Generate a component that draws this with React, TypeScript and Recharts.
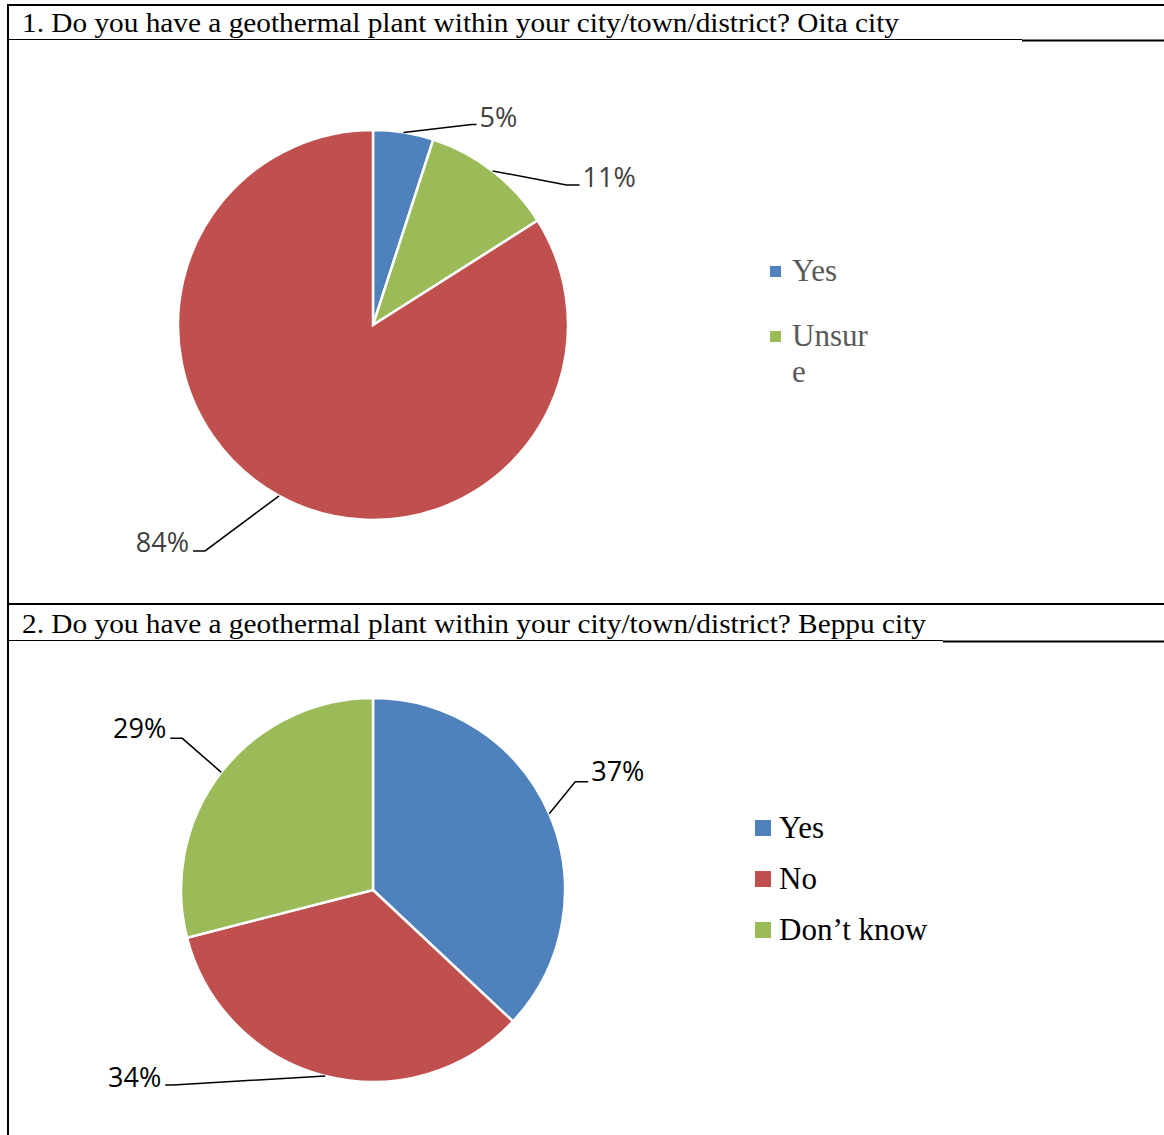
import React from "react";
import { PieChart, Pie, Cell, Legend } from "recharts";

// ---- data ----
const OITA_CATEGORIES = ["Yes", "Unsure", "No"];
const OITA_VALUES = [5, 11, 84];
const OITA_LEGEND = ["Yes", "Unsure"];

const BEPPU_CATEGORIES = ["Yes", "No", "Don\u2019t know"];
const BEPPU_VALUES = [37, 34, 29];
const BEPPU_LEGEND = ["Yes", "No", "Don\u2019t know"];

const TITLE_1 = "1. Do you have a geothermal plant within your city/town/district? Oita city";
const TITLE_2 = "2. Do you have a geothermal plant within your city/town/district? Beppu city";

// ---- styles ----
const COLORS_OITA = ["#4F81BD", "#9BBB59", "#C0504D"];
const COLORS_BEPPU = ["#4F81BD", "#C0504D", "#9BBB59"];
const RADIAN = Math.PI / 180;
const NO_MARGIN = { top: 0, right: 0, bottom: 0, left: 0 };

// leader-line layout: elbow offset from the arc point, horizontal tail length, text offset
const LAYOUT_1 = [
  { dx: 68, dy: -8, tail: 5, ty: -8 },
  { dx: 74, dy: 14, tail: 13, ty: -8 },
  { dx: -74, dy: 55, tail: 12, ty: -9 },
];
const LAYOUT_2 = [
  { dx: 26, dy: -32, tail: 13, ty: -11 },
  { dx: -152, dy: 9, tail: 8, ty: -8 },
  { dx: -39, dy: -34, tail: 12, ty: -11 },
];

const makeLabel = (layout: any[], color: string) => (props: any) => {
  const { cx, cy, midAngle, outerRadius, index, value } = props;
  const L = layout[index];
  const ax = cx + outerRadius * Math.cos(-midAngle * RADIAN);
  const ay = cy + outerRadius * Math.sin(-midAngle * RADIAN);
  const ex = ax + L.dx;
  const ey = ay + L.dy;
  const right = L.dx >= 0;
  const tx = ex + (right ? L.tail : -L.tail);
  return (
    <g key={`lbl-${index}`}>
      <polyline
        points={`${ax},${ay} ${ex},${ey} ${tx},${ey}`}
        fill="none"
        stroke="#000"
        strokeWidth={1.5}
      />
      <text
        x={tx + (right ? 3 : -4)}
        y={ey + L.ty}
        textAnchor={right ? "start" : "end"}
        dominantBaseline="central"
        fontFamily="'Open Sans', 'Liberation Sans', sans-serif"
        fontSize={27}
        fill={color}
      >
        {`${value}%`}
      </text>
    </g>
  );
};

const legendContent = (
  names: string[],
  colors: string[],
  cats: string[],
  opts: { sq: number; gap: number; rowH: number; color: string; textW?: number }
) => () => (
  <div style={{ fontFamily: "'Liberation Serif', 'Times New Roman', serif", fontSize: 31, color: opts.color }}>
    {names.map((n) => {
      const i = cats.indexOf(n);
      return (
        <div key={n} style={{ display: "flex", alignItems: "flex-start", minHeight: opts.rowH }}>
          <div
            style={{
              width: opts.sq,
              height: opts.sq,
              background: colors[i],
              marginTop: 18 - opts.sq / 2,
              marginRight: opts.gap,
              flex: "none",
            }}
          />
          <div
            style={{
              lineHeight: "36px",
              width: opts.textW,
              wordBreak: opts.textW ? "break-all" : "normal",
            }}
          >
            {n}
          </div>
        </div>
      );
    })}
  </div>
);

export default function App() {
  const oita = OITA_CATEGORIES.map((name, i) => ({ name, value: OITA_VALUES[i] }));
  const beppu = BEPPU_CATEGORIES.map((name, i) => ({ name, value: BEPPU_VALUES[i] }));

  return (
    <div style={{ position: "absolute", left: 0, top: 0, width: 1164, height: 1135, background: "#fff" }}>
      <div style={{ position: "absolute", left: 0, top: 0 }}>
        <PieChart width={1164} height={604} margin={NO_MARGIN}>
          <Pie
            data={oita}
            dataKey="value"
            nameKey="name"
            cx={373}
            cy={325}
            outerRadius={195}
            startAngle={90}
            endAngle={-270}
            stroke="#fff"
            strokeWidth={2.5}
            isAnimationActive={false}
            labelLine={false}
            label={makeLabel(LAYOUT_1, "#404040")}
          >
            {oita.map((d, i) => (
              <Cell key={d.name} fill={COLORS_OITA[i]} />
            ))}
          </Pie>
          <Legend
            layout="vertical"
            content={legendContent(OITA_LEGEND, COLORS_OITA, OITA_CATEGORIES, {
              sq: 11,
              gap: 11,
              rowH: 65,
              color: "#595959",
              textW: 82,
            })}
            wrapperStyle={{ left: 770, top: 253, width: 200, bottom: "auto" }}
          />
        </PieChart>
      </div>
      <div style={{ position: "absolute", left: 0, top: 604 }}>
        <PieChart width={1164} height={531} margin={NO_MARGIN}>
          <Pie
            data={beppu}
            dataKey="value"
            nameKey="name"
            cx={373}
            cy={286}
            outerRadius={192}
            startAngle={90}
            endAngle={-270}
            stroke="#fff"
            strokeWidth={2.5}
            isAnimationActive={false}
            labelLine={false}
            label={makeLabel(LAYOUT_2, "#000")}
          >
            {beppu.map((d, i) => (
              <Cell key={d.name} fill={COLORS_BEPPU[i]} />
            ))}
          </Pie>
          <Legend
            layout="vertical"
            content={legendContent(BEPPU_LEGEND, COLORS_BEPPU, BEPPU_CATEGORIES, {
              sq: 16,
              gap: 8,
              rowH: 51,
              color: "#000",
            })}
            wrapperStyle={{ left: 755, top: 206, width: 260, bottom: "auto" }}
          />
        </PieChart>
      </div>
      {/* table frame and titles */}
      <svg
        width={1164}
        height={1135}
        style={{ position: "absolute", left: 0, top: 0, pointerEvents: "none" }}
      >
        <line x1={7} y1={5} x2={1164} y2={5} stroke="#000" strokeWidth={2} />
        <line x1={8} y1={4} x2={8} y2={1135} stroke="#000" strokeWidth={2} />
        <line x1={8} y1={39.5} x2={1022} y2={39.5} stroke="#000" strokeWidth={1} />
        <line x1={1022} y1={40.5} x2={1164} y2={40.5} stroke="#000" strokeWidth={2} />
        <line x1={8} y1={604} x2={1164} y2={604} stroke="#000" strokeWidth={2} />
        <line x1={8} y1={640.5} x2={943} y2={640.5} stroke="#000" strokeWidth={1} />
        <line x1={943} y1={641.5} x2={1164} y2={641.5} stroke="#000" strokeWidth={2} />
        <text
          x={22}
          y={32}
          fontFamily="'Liberation Serif', 'Times New Roman', serif"
          fontSize={27}
          textLength={877}
          lengthAdjust="spacingAndGlyphs"
          fill="#000"
        >
          {TITLE_1}
        </text>
        <text
          x={22}
          y={633}
          fontFamily="'Liberation Serif', 'Times New Roman', serif"
          fontSize={27}
          textLength={904}
          lengthAdjust="spacingAndGlyphs"
          fill="#000"
        >
          {TITLE_2}
        </text>
      </svg>
    </div>
  );
}
